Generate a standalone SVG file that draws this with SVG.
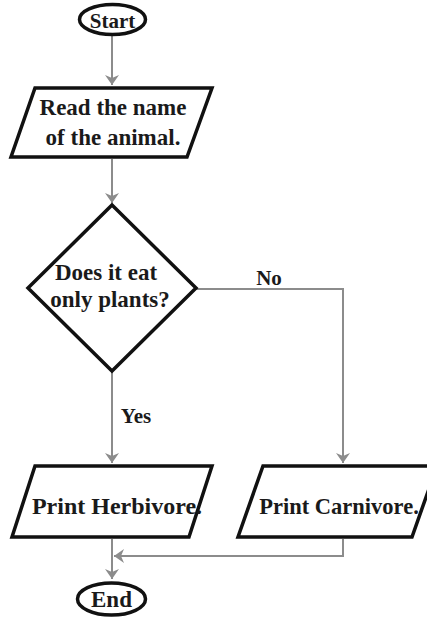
<svg xmlns="http://www.w3.org/2000/svg" width="427" height="618" viewBox="0 0 427 618">
<style>
.shape{fill:#fff;stroke:#111;stroke-width:3.5;stroke-linejoin:miter}
.t{font-family:"Liberation Serif","DejaVu Serif",serif;font-weight:bold;font-size:23px;fill:#1a1a1a;text-anchor:middle}
.c{fill:none;stroke:#8c8c8c;stroke-width:2}
.lbl{font-size:21px}
</style>
<defs>
<marker id="ah" markerUnits="userSpaceOnUse" viewBox="0 0 10 14" refX="10" refY="7" markerWidth="10" markerHeight="14" orient="auto">
<path d="M0,0 L10,7 L0,14 L3,7 z" fill="#8c8c8c"/>
</marker>
</defs>
<g id="connectors">
<path class="c" d="M112,36 V85" marker-end="url(#ah)"/>
<path class="c" d="M112,159 V203" marker-end="url(#ah)"/>
<path class="c" d="M196,289 H343 V463" marker-end="url(#ah)"/>
<path class="c" d="M112,372 V463" marker-end="url(#ah)"/>
<path class="c" d="M112,539 V579" marker-end="url(#ah)"/>
<path class="c" d="M343,539 V556 H114" marker-end="url(#ah)"/>
<text class="t lbl" x="269" y="285">No</text>
<text class="t lbl" x="136" y="423">Yes</text>
</g>
<g id="start">
<ellipse class="shape" cx="112.5" cy="19.5" rx="33" ry="15"/>
<text class="t" x="112.5" y="28" style="font-size:21px">Start</text>
</g>
<g id="read">
<polygon class="shape" points="35,88 212,88 187,157 11,157"/>
<text class="t" x="113" y="115">Read the name</text>
<text class="t" x="113" y="145">of the animal.</text>
</g>
<g id="decision">
<polygon class="shape" points="112,205 196,288 112,371 28,288"/>
<text class="t" x="106" y="280">Does it eat</text>
<text class="t" x="110" y="307">only plants?</text>
</g>
<g id="herbivore">
<polygon class="shape" points="35,466 212,466 189,537 12,537"/>
<text class="t" x="117" y="514" style="font-size:24px">Print Herbivore.</text>
</g>
<g id="carnivore">
<polygon class="shape" points="263,466 437,466 412,537 238,537"/>
<text class="t" x="339" y="514" style="font-size:22.5px">Print Carnivore.</text>
</g>
<g id="end">
<ellipse class="shape" cx="111.5" cy="599" rx="34" ry="16"/>
<text class="t" x="111.5" y="607" style="font-size:23px">End</text>
</g>
</svg>
